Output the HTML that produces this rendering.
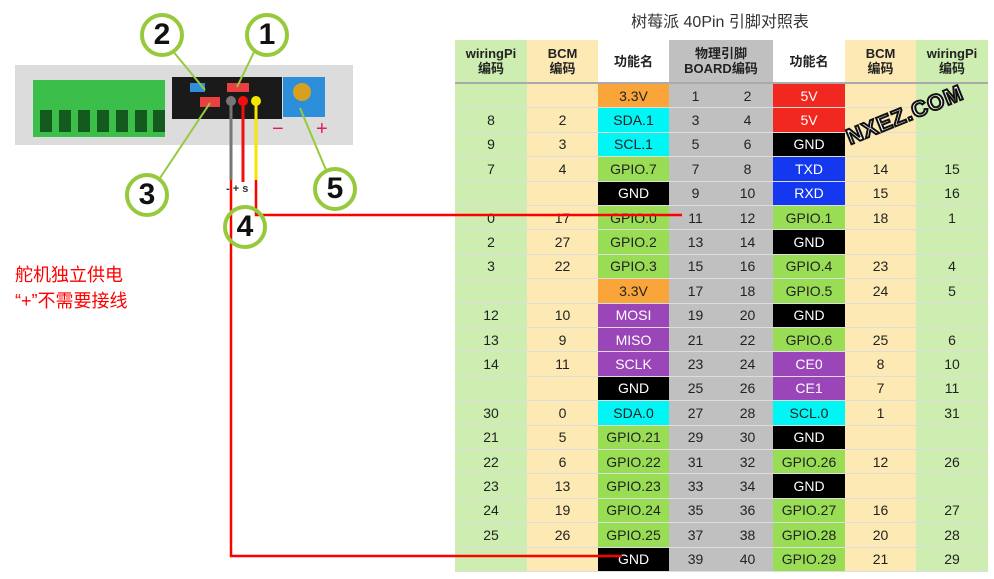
<!DOCTYPE html>
<html><head><meta charset="utf-8"><style>
body{margin:0;width:994px;height:579px;background:#fff;position:relative;overflow:hidden;font-family:"Liberation Sans","Noto Sans CJK SC",sans-serif;}
.abs{position:absolute;}
.cell{position:absolute;display:flex;align-items:center;justify-content:center;font-size:14px;color:#222;box-sizing:border-box;border-bottom:1px solid #ddd;}
.hd{font-weight:bold;font-size:13px;line-height:15px;text-align:center;flex-direction:column;border-bottom:2px solid #aaa;}
.circ{position:absolute;width:36px;height:36px;border:4px solid #97c93d;border-radius:50%;background:#fff;font:bold 30px "Liberation Sans",sans-serif;display:flex;align-items:center;justify-content:center;color:#111;}
.slot{position:absolute;top:110px;width:12px;height:22px;background:#145a1e;}
</style></head><body>
<div class="abs" style="left:560px;top:8px;width:320px;text-align:center;font-size:16px;color:#333;">树莓派 40Pin 引脚对照表</div>
<div id="tbl"></div>

<div class="abs" style="left:15px;top:65px;width:338px;height:80px;background:#dcdcdc;"></div>
<div class="abs" style="left:33px;top:80px;width:132px;height:57px;background:#3cbf4a;"></div>
<div class="slot" style="left:40px"></div>
<div class="slot" style="left:59px"></div>
<div class="slot" style="left:78px"></div>
<div class="slot" style="left:97px"></div>
<div class="slot" style="left:116px"></div>
<div class="slot" style="left:135px"></div>
<div class="slot" style="left:153px"></div>
<div class="abs" style="left:172px;top:77px;width:110px;height:42px;background:#1a1a1a;"></div>
<div class="abs" style="left:283px;top:77px;width:42px;height:40px;background:#2d8fdc;"></div>
<div class="abs" style="left:293px;top:83px;width:18px;height:18px;border-radius:50%;background:#d8a020;"></div>
<div class="abs" style="left:190px;top:83px;width:15px;height:9px;background:#2d8fdc;"></div>
<div class="abs" style="left:227px;top:83px;width:22px;height:9px;background:#e84040;"></div>
<div class="abs" style="left:200px;top:97px;width:20px;height:10px;background:#e84040;"></div>
<div class="abs" style="left:226px;top:96px;width:10px;height:10px;border-radius:50%;background:#777;"></div>
<div class="abs" style="left:238px;top:96px;width:10px;height:10px;border-radius:50%;background:#f01010;"></div>
<div class="abs" style="left:251px;top:96px;width:10px;height:10px;border-radius:50%;background:#f5e600;"></div>
<div class="abs" style="left:272px;top:118px;color:#e0205a;font-size:20px;">−</div>
<div class="abs" style="left:316px;top:118px;color:#e0205a;font-size:20px;">+</div>
<div class="abs" style="left:226px;top:183px;font-size:11px;font-weight:bold;color:#333;">- + s</div>

<svg class="abs" style="left:0;top:0" width="994" height="579">
<g stroke="#97c93d" stroke-width="2"><line x1="172" y1="50" x2="205" y2="90"/><line x1="255" y1="50" x2="237" y2="87"/><line x1="160" y1="178" x2="210" y2="103"/><line x1="326" y1="170" x2="300" y2="108"/></g>
<line x1="231" y1="101" x2="231" y2="180" stroke="#777" stroke-width="3"/>
<line x1="243" y1="101" x2="243" y2="182" stroke="#f01010" stroke-width="3"/>
<line x1="256" y1="101" x2="256" y2="180" stroke="#f5e600" stroke-width="3"/>
<polyline points="256,180 256,215 682,215" fill="none" stroke="#f00" stroke-width="2.5"/>
<polyline points="231,180 231,556 622,556" fill="none" stroke="#f00" stroke-width="2.5"/>
</svg>
<div class="circ" style="left:140px;top:13px;">2</div>
<div class="circ" style="left:245px;top:13px;">1</div>
<div class="circ" style="left:125px;top:173px;">3</div>
<div class="circ" style="left:223px;top:205px;background:transparent;">4</div>
<div class="circ" style="left:313px;top:167px;">5</div>
<div class="abs" style="left:15px;top:262px;color:#f00;font-size:18px;line-height:26px;">舵机独立供电<br>“+”不需要接线</div>
<div class="abs" style="left:843px;top:102px;transform:rotate(-22deg);font:bold 22px 'Liberation Sans',sans-serif;color:#fff;-webkit-text-stroke:2px #111;letter-spacing:1px;">NXEZ.COM</div>

<script>
const rowsL=[["","","3.3V"],["8","2","SDA.1"],["9","3","SCL.1"],["7","4","GPIO.7"],["","","GND"],["0","17","GPIO.0"],["2","27","GPIO.2"],["3","22","GPIO.3"],["","","3.3V"],["12","10","MOSI"],["13","9","MISO"],["14","11","SCLK"],["","","GND"],["30","0","SDA.0"],["21","5","GPIO.21"],["22","6","GPIO.22"],["23","13","GPIO.23"],["24","19","GPIO.24"],["25","26","GPIO.25"],["","","GND"]];
const rowsR=[["5V","",""],["5V","",""],["GND","",""],["TXD","14","15"],["RXD","15","16"],["GPIO.1","18","1"],["GND","",""],["GPIO.4","23","4"],["GPIO.5","24","5"],["GND","",""],["GPIO.6","25","6"],["CE0","8","10"],["CE1","7","11"],["SCL.0","1","31"],["GND","",""],["GPIO.26","12","26"],["GND","",""],["GPIO.27","16","27"],["GPIO.28","20","28"],["GPIO.29","21","29"]];
const headers=["wiringPi<br>编码","BCM<br>编码","功能名","物理引脚<br>BOARD编码","功能名","BCM<br>编码","wiringPi<br>编码"];
const xs=[455,527,598,669,722,773,845,916,988];
const T=document.getElementById('tbl');
function fn(n){
  if(n==="3.3V")return["#f9a53a","#222"];
  if(n==="5V")return["#f02820","#fff"];
  if(["SDA.0","SDA.1","SCL.0","SCL.1"].includes(n))return["#00f5f5","#222"];
  if(n==="GND")return["#000","#fff"];
  if(n==="TXD"||n==="RXD")return["#1438f0","#fff"];
  if(["MOSI","MISO","SCLK","CE0","CE1"].includes(n))return["#9a45b8","#fff"];
  return["#99dd55","#222"];
}
function cell(x1,x2,y,h,txt,bg,col,cls){
  const d=document.createElement('div');
  d.className='cell '+(cls||'');
  d.style.left=x1+'px';d.style.top=y+'px';d.style.width=(x2-x1)+'px';d.style.height=h+'px';
  d.style.background=bg;d.style.color=col;d.innerHTML=txt;
  
  
  T.appendChild(d);
}
const hb=["#cdeeb0","#fde9b3","#fff","#c0c0c0","#fff","#fde9b3","#cdeeb0"];
const hxs=[455,527,598,669,773,845,916,988];
for(let i=0;i<7;i++)cell(hxs[i],hxs[i+1],40,44,headers[i],hb[i],"#222","hd");
const rh=24.4;
for(let r=0;r<20;r++){
  const y=84+r*rh;const L=rowsL[r],R=rowsR[r];
  cell(xs[0],xs[1],y,rh,L[0],"#cdeeb0","#222");
  cell(xs[1],xs[2],y,rh,L[1],"#fde9b3","#222");
  let c=fn(L[2]);cell(xs[2],xs[3],y,rh,L[2],c[0],c[1]);
  cell(xs[3],xs[4],y,rh,String(2*r+1),"#c0c0c0","#222");
  cell(xs[4],xs[5],y,rh,String(2*r+2),"#c0c0c0","#222");
  c=fn(R[0]);cell(xs[5],xs[6],y,rh,R[0],c[0],c[1]);
  cell(xs[6],xs[7],y,rh,R[1],"#fde9b3","#222");
  cell(xs[7],xs[8],y,rh,R[2],"#cdeeb0","#222");
}
</script>
</body></html>
